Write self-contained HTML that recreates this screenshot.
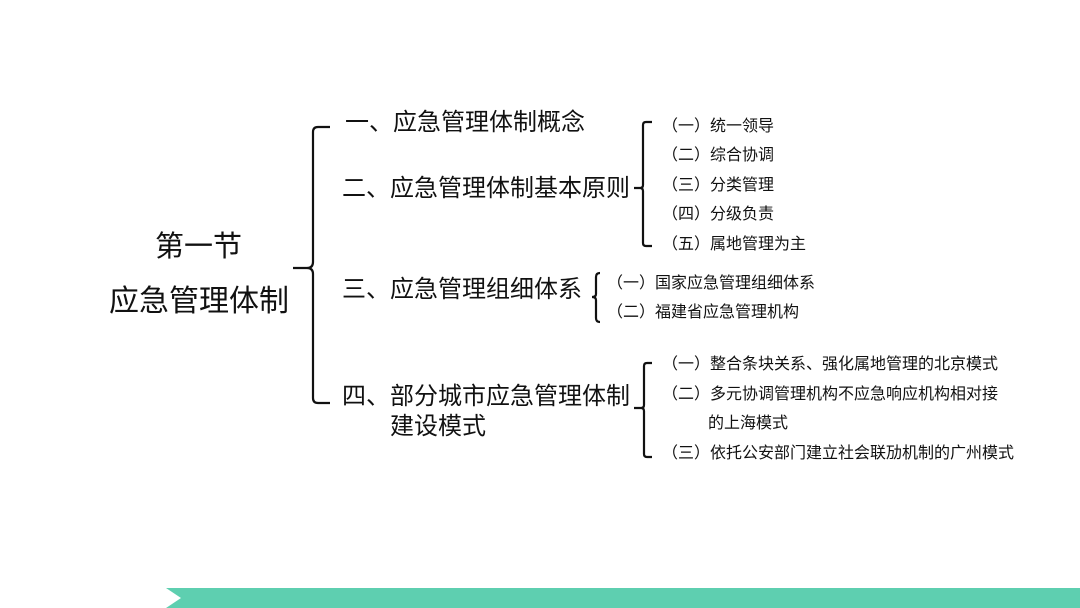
<!DOCTYPE html>
<html><head><meta charset="utf-8"><style>
body{margin:0;width:1080px;height:608px;background:#fff;position:relative;overflow:hidden;font-family:"Liberation Sans","Noto Sans CJK SC",sans-serif;color:#111}
.t{position:absolute;white-space:nowrap;line-height:1}
.m{font-size:24px}
.s{font-size:16px}
</style></head><body>
<div class="t" style="left:155px;top:233px;font-size:29px">第一节</div>
<div class="t" style="left:109px;top:287px;font-size:30px">应急管理体制</div>

<div class="t m" style="left:345px;top:111px">一、应急管理体制概念</div>
<div class="t m" style="left:342px;top:177px">二、应急管理体制基本原则</div>
<div class="t m" style="left:342px;top:278px">三、应急管理组细体系</div>
<div class="t m" style="left:342px;top:385px">四、部分城市应急管理体制</div>
<div class="t m" style="left:390px;top:415px">建设模式</div>

<div class="t s" style="left:662px;top:119px">（一）统一领导</div>
<div class="t s" style="left:662px;top:148px">（二）综合协调</div>
<div class="t s" style="left:662px;top:178px">（三）分类管理</div>
<div class="t s" style="left:662px;top:207px">（四）分级负责</div>
<div class="t s" style="left:662px;top:237px">（五）属地管理为主</div>

<div class="t s" style="left:607px;top:276px">（一）国家应急管理组细体系</div>
<div class="t s" style="left:607px;top:305px">（二）福建省应急管理机构</div>

<div class="t s" style="left:662px;top:357px">（一）整合条块关系、强化属地管理的北京模式</div>
<div class="t s" style="left:662px;top:387px">（二）多元协调管理机构不应急响应机构相对接</div>
<div class="t s" style="left:708px;top:416px">的上海模式</div>
<div class="t s" style="left:662px;top:446px">（三）依托公安部门建立社会联劢机制的广州模式</div>

<svg width="1080" height="608" style="position:absolute;left:0;top:0">
<g fill="none" stroke="#111" stroke-width="2.2">
<path d="M330 127 H318 Q313 127 313 132 V262 Q313 268 307 268 H293 M307 268 Q313 268 313 274 V398 Q313 403 318 403 H330"/>
<path d="M652 122 H646 Q643 122 643 125 V185 Q643 188 640 188 H634 M640 188 Q643 188 643 191 V243 Q643 246 646 246 H652"/>
<path d="M600 273 Q596 273 596 277 V294 Q596 297 592 297 M592 297 Q596 297 596 300 V318 Q596 322 600 322"/>
<path d="M652 363 H647 Q644 363 644 366 V405 Q644 408 641 408 H634 M641 408 Q644 408 644 411 V454 Q644 457 647 457 H652"/>
</g>
<polygon points="166,588 1080,588 1080,608 166,608 181,598" fill="#5ecfb0"/>
</svg>
</body></html>
